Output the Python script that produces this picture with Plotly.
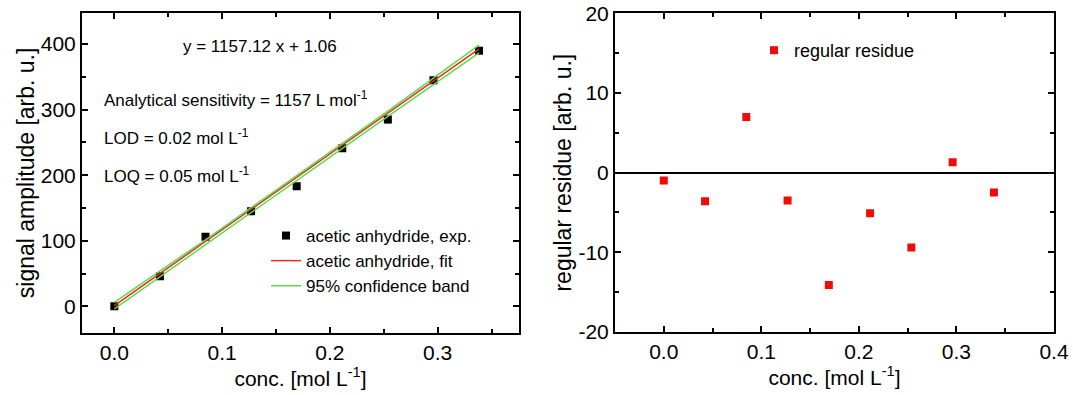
import plotly.graph_objects as go

# ---- data ----
conc = [0.0, 0.0423, 0.0846, 0.1269, 0.1692, 0.2115, 0.2538, 0.2961, 0.3384]
signal = [0.0, 46.0, 106.0, 145.0, 183.0, 241.0, 285.0, 345.0, 390.0]
signal_err = [2.0, 2.0, 2.0, 2.0, 2.0, 2.0, 5.0, 2.0, 3.0]
residue = [-1.0, -3.6, 7.0, -3.5, -14.1, -5.1, -9.4, 1.3, -2.5]

fit_x = [0.0, 0.3384]
fit_y = [1.06, 392.6]
band_x = [0.0, 0.0846, 0.1692, 0.2538, 0.3384]
band_upper = [6.0, 101.5, 199.5, 297.6, 398.6]
band_lower = [-3.9, 94.3, 192.0, 289.6, 386.6]

left_yticks = [0, 100, 200, 300, 400]
left_xticks = [0.0, 0.1, 0.2, 0.3]
left_xticktext = ["0.0", "0.1", "0.2", "0.3"]
right_yticks = [-20, -10, 0, 10, 20]
right_yticktext = ["-20", "-10", "0", "10", "20"]
right_xticks = [0.0, 0.1, 0.2, 0.3, 0.4]
right_xticktext = ["0.0", "0.1", "0.2", "0.3", "0.4"]

FONT = "Liberation Sans, Arial, sans-serif"
RED = "rgb(232,40,40)"
GREEN = "rgb(90,220,70)"

fig = go.Figure()

fig.add_trace(go.Scatter(
    x=conc, y=signal, mode="markers", name="acetic anhydride, exp.",
    marker=dict(symbol="square", size=8, color="black"),
    error_y=dict(type="data", array=signal_err, color="rgb(170,170,170)", thickness=2, width=3),
    xaxis="x", yaxis="y", legend="legend"))
fig.add_trace(go.Scatter(
    x=fit_x, y=fit_y, mode="lines", name="acetic anhydride, fit",
    line=dict(color=RED, width=1.5), xaxis="x", yaxis="y", legend="legend"))
fig.add_trace(go.Scatter(
    x=band_x, y=band_upper, mode="lines", name="95% confidence band",
    line=dict(color=GREEN, width=1.5), xaxis="x", yaxis="y", legend="legend"))
fig.add_trace(go.Scatter(
    x=band_x, y=band_lower, mode="lines", name="95% confidence band", showlegend=False,
    line=dict(color=GREEN, width=1.5), xaxis="x", yaxis="y", legend="legend"))

fig.add_trace(go.Scatter(
    x=conc, y=residue, mode="markers", name="regular residue",
    marker=dict(symbol="square", size=8, color="rgb(240,10,10)"),
    xaxis="x2", yaxis="y2", legend="legend2"))

common = dict(
    showline=True, linecolor="black", linewidth=2, mirror="allticks",
    ticks="inside", ticklen=6, tickwidth=2, tickcolor="black",
    showgrid=False, zeroline=False, automargin=False,
    tickfont=dict(family=FONT, size=21, color="black"),
)
minor_common = dict(ticks="inside", ticklen=4, tickwidth=2, tickcolor="black")

fig.update_layout(
    template="none",
    width=1073, height=395,
    margin=dict(l=0, r=0, t=0, b=0, autoexpand=False),
    paper_bgcolor="white", plot_bgcolor="white",
    font=dict(family=FONT, color="black"),
    xaxis=dict(
        domain=[82 / 1073, 519 / 1073], range=[-0.03, 0.3755],
        tickvals=left_xticks, ticktext=left_xticktext,
        minor=dict(dtick=0.05, tick0=0, **minor_common),
        title=dict(text="conc. [mol L<sup>-1</sup>]", font=dict(family=FONT, size=21), standoff=7),
        anchor="y", **common),
    yaxis=dict(
        domain=[(395 - 332.5) / 395, (395 - 13.3) / 395], range=[-40, 447],
        tickvals=left_yticks,
        minor=dict(dtick=50, tick0=0, **minor_common),
        title=dict(text="signal amplitude [arb. u.]", font=dict(family=FONT, size=23), standoff=0),
        anchor="x", **common),
    xaxis2=dict(
        domain=[615 / 1073, 1054 / 1073], range=[-0.05, 0.4],
        tickvals=right_xticks, ticktext=right_xticktext,
        minor=dict(dtick=0.05, tick0=0, **minor_common),
        title=dict(text="conc. [mol L<sup>-1</sup>]", font=dict(family=FONT, size=21), standoff=7),
        anchor="y2", **common),
    yaxis2=dict(
        domain=[(395 - 332) / 395, (395 - 13.3) / 395], range=[-20, 20],
        tickvals=right_yticks, ticktext=right_yticktext,
        minor=dict(dtick=5, tick0=0, **minor_common),
        title=dict(text="regular residue [arb. u.]", font=dict(family=FONT, size=23), standoff=0),
        anchor="x2", **common),
    legend=dict(
        x=266 / 1073, y=1 - 218 / 395, xanchor="left", yanchor="top",
        bgcolor="rgba(0,0,0,0)", font=dict(family=FONT, size=17), tracegroupgap=0,
        itemwidth=30),
    legend2=dict(
        x=754 / 1073, y=1 - 32 / 395, xanchor="left", yanchor="top",
        bgcolor="rgba(0,0,0,0)", font=dict(family=FONT, size=18)),
)

fig.update_yaxes(zeroline=True, zerolinecolor="black", zerolinewidth=2, selector=dict(anchor="x2"))

ann_font = dict(family=FONT, size=17, color="black")
fig.add_annotation(x=0.135, y=396, xref="x", yref="y", text="y = 1157.12 x + 1.06",
                   showarrow=False, font=ann_font, xanchor="center", yanchor="middle")
fig.add_annotation(x=-0.011, y=316, xref="x", yref="y",
                   text="Analytical sensitivity = 1157 L mol<sup>-1</sup>",
                   showarrow=False, font=ann_font, xanchor="left", yanchor="middle")
fig.add_annotation(x=-0.011, y=258, xref="x", yref="y",
                   text="LOD = 0.02 mol L<sup>-1</sup>",
                   showarrow=False, font=ann_font, xanchor="left", yanchor="middle")
fig.add_annotation(x=-0.011, y=200, xref="x", yref="y",
                   text="LOQ = 0.05 mol L<sup>-1</sup>",
                   showarrow=False, font=ann_font, xanchor="left", yanchor="middle")

fig.write_html("out.html")
